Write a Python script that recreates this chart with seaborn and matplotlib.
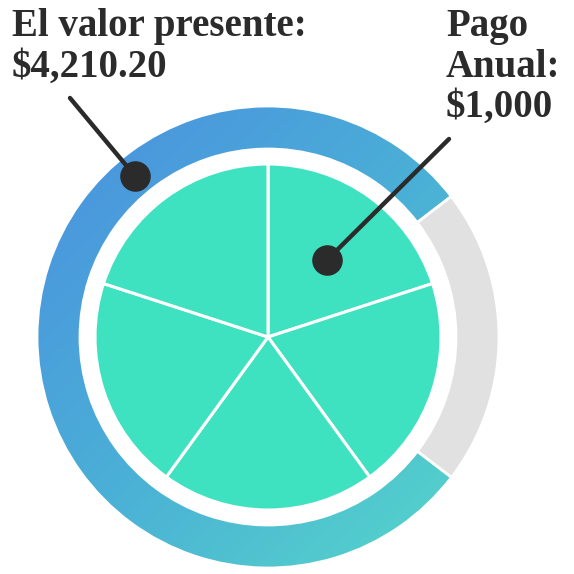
import numpy as np
import matplotlib
matplotlib.use("Agg")
import matplotlib.pyplot as plt
import seaborn as sns
from matplotlib.colors import LinearSegmentedColormap

# ---- data ----
payments = [1000, 1000, 1000, 1000, 1000]          # five annual payments
ring_labels = ["Valor presente", "Resto"]
ring_share = [79.2, 20.8]
label_pv = "El valor presente:\n$4,210.20"
label_pay = "Pago\nAnual:\n$1,000"

sns.set_theme(style="white")
plt.rcParams['font.family'] = ['Liberation Serif', 'DejaVu Serif']

W = 574
fig = plt.figure(figsize=(5.74, 5.74), dpi=100)
ax = fig.add_axes([0, 0, 1, 1])

cx, cy = 268, W - 337
pie_color = "#3EE2C1"
gray = "#E1E1E1"

# inner pie
ax.pie(payments, radius=173, center=(cx, cy), startangle=90, counterclock=False,
       colors=[pie_color] * len(payments),
       wedgeprops=dict(edgecolor="white", linewidth=2.2))

# outer ring
ring, _ = ax.pie(ring_share, radius=231, center=(cx, cy), startangle=-37.4,
                 counterclock=False, colors=["none", gray],
                 wedgeprops=dict(width=43, edgecolor="white", linewidth=2.0))

# gradient fill for the first ring segment
cmap = LinearSegmentedColormap.from_list("g", ["#4A8FE0", "#4BB0D6", "#56DAC8"])
n = 300
xs = np.linspace(0, 1, n)
X, Y = np.meshgrid(xs, xs)
grad = (X + Y) / 2.0   # 0 at top-left, 1 at bottom-right
R = 231
img = ax.imshow(grad, cmap=cmap, extent=(cx - R, cx + R, cy - R, cy + R),
                origin="upper", zorder=0.5, interpolation="bilinear")
img.set_clip_path(ring[0])

# leader lines and dots
dark = "#2B2B2B"
ax.plot([70, 135], [W - 98, W - 176], color=dark, lw=3.2, solid_capstyle="round", zorder=5)
ax.plot([135], [W - 176], "o", color=dark, ms=21, zorder=6)
ax.plot([449, 327], [W - 139, W - 260], color=dark, lw=3.2, solid_capstyle="round", zorder=5)
ax.plot([327], [W - 260], "o", color=dark, ms=21, zorder=6)

# labels
ax.text(12, W - 8, label_pv, ha="left", va="top", fontsize=28, fontweight="bold",
        color=dark, linespacing=1.13)
ax.text(446, W - 8, label_pay, ha="left", va="top", fontsize=28, fontweight="bold",
        color=dark, linespacing=1.13)

ax.set_xlim(0, W)
ax.set_ylim(0, W)
ax.set_aspect("equal")
ax.axis("off")

fig.savefig("out.png", dpi=100, facecolor="white")
